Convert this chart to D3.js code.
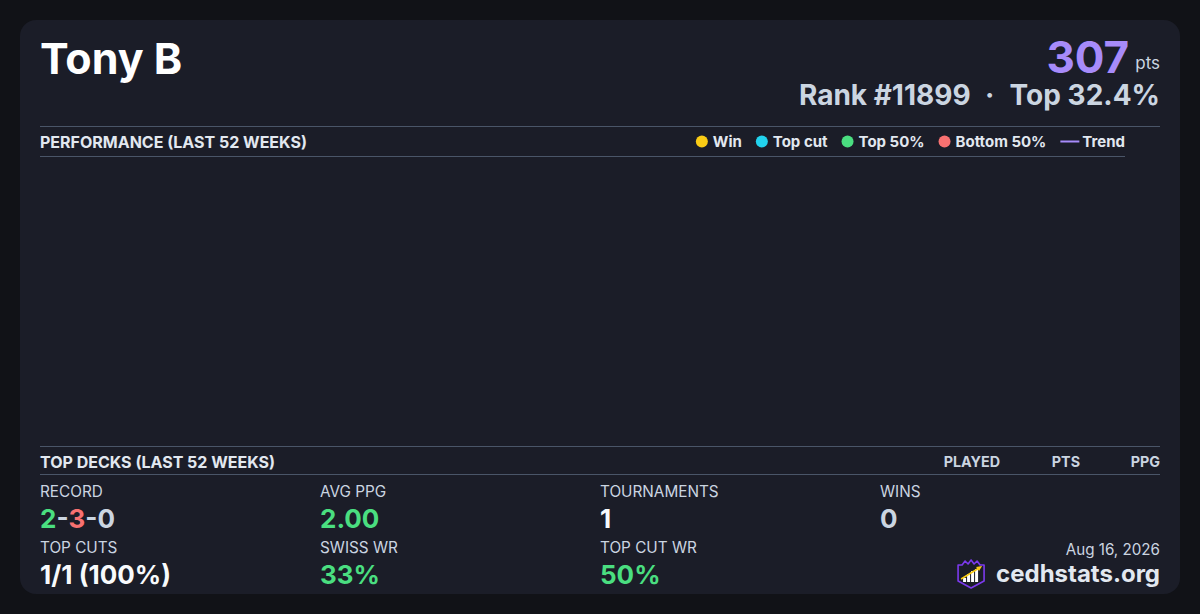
<!DOCTYPE html>
<html lang="en">
<head>
    <meta charset="UTF-8">
    <title>Tony B - cedhstats</title>
    <style>
        html, body { margin: 0; padding: 0; background: #111217; }
        svg text { font-family: Inter, "Noto Sans", sans-serif; }
    </style>
</head>
<body>

    <svg width="1200" height="614"></svg>

    <script src="https://d3js.org/d3.v7.min.js"></script>

    <script>

        // Player header
        const playerName = 'Tony B';
        const points = 307;
        const rank = 11899;
        const topPct = 32.4;
        const reportDate = 'Aug 16, 2026';

        // Legend of the performance chart
        const legendLabels = ['Win', 'Top cut', 'Top 50%', 'Bottom 50%', 'Trend'];
        const legendColors = ['#facc15', '#22d3ee', '#4ade80', '#f87171', '#a78bfa'];

        // Weekly results (last 52 weeks) - nothing in the window
        const perfWeeks = [];
        const perfPoints = [];

        // Top decks table
        const deckColumns = ['PLAYED', 'PTS', 'PPG'];
        const deckRows = [];

        // Stat blocks
        const statLabels = ['RECORD', 'AVG PPG', 'TOURNAMENTS', 'WINS', 'TOP CUTS', 'SWISS WR', 'TOP CUT WR'];
        const statValues = ['2-3-0', '2.00', '1', '0', '1/1 (100%)', '33%', '50%'];
        const statColors = [null, '#4ade80', '#f8fafc', '#cbd5e1', '#f8fafc', '#4ade80', '#4ade80'];

        const svg = d3.select('svg');
        const width = +svg.attr('width');
        const height = +svg.attr('height');

        const left = 40, right = 1160;
        const lineColor = '#4a5568';

        // Card
        svg.append('rect')
            .attr('x', 20).attr('y', 20)
            .attr('width', width - 40).attr('height', height - 40)
            .attr('rx', 16)
            .attr('fill', '#1b1d28');

        // Header
        svg.append('text')
            .attr('x', left).attr('y', 74)
            .attr('fill', '#ffffff')
            .style('font-size', '43px').style('font-weight', 700)
            .text(playerName);

        const ptsLabel = svg.append('text')
            .attr('x', right).attr('y', 69)
            .attr('text-anchor', 'end')
            .attr('fill', '#cbd5e1')
            .style('font-size', '17px')
            .text('pts');
        const ptsW = ptsLabel.node().getComputedTextLength();

        svg.append('text')
            .attr('x', right - ptsW - 6).attr('y', 73)
            .attr('text-anchor', 'end')
            .attr('fill', '#a78bfa')
            .style('font-size', '44px').style('font-weight', 700)
            .text(points);

        // Rank line: "Rank #n  ·  Top p%"
        const topText = svg.append('text')
            .attr('x', right).attr('y', 105)
            .attr('text-anchor', 'end')
            .attr('fill', '#cbd5e1')
            .style('font-size', '28px').style('font-weight', 700)
            .text('Top ' + topPct + '%');
        const topW = topText.node().getComputedTextLength();

        const dotX = right - topW - 20;
        svg.append('text')
            .attr('x', dotX).attr('y', 105)
            .attr('text-anchor', 'middle')
            .attr('fill', '#cbd5e1')
            .style('font-size', '28px').style('font-weight', 700)
            .text('\u00b7');

        svg.append('text')
            .attr('x', dotX - 19).attr('y', 105)
            .attr('text-anchor', 'end')
            .attr('fill', '#cbd5e1')
            .style('font-size', '28px').style('font-weight', 700)
            .text('Rank #' + rank);

        // Performance section
        svg.append('line')
            .attr('x1', left).attr('x2', right)
            .attr('y1', 126.5).attr('y2', 126.5)
            .attr('stroke', lineColor);

        svg.append('text')
            .attr('x', left).attr('y', 148)
            .attr('fill', '#e2e8f0')
            .style('font-size', '16px').style('font-weight', 700)
            .text('PERFORMANCE (LAST 52 WEEKS)');

        const plot = { left: left, right: 1125, top: 156, bottom: 446 };

        svg.append('line')
            .attr('x1', plot.left).attr('x2', plot.right)
            .attr('y1', plot.top + 0.5).attr('y2', plot.top + 0.5)
            .attr('stroke', lineColor);

        // Legend, laid out right to left so it ends at the plot edge
        const legend = svg.append('g');
        const items = legend.selectAll('g')
            .data(legendLabels)
            .enter()
            .append('g');

        items.append('text')
            .attr('y', 147)
            .attr('fill', '#e2e8f0')
            .style('font-size', '15px').style('font-weight', 700)
            .text(function (d) { return d; });

        let cursor = plot.right;
        const nodes = items.nodes();
        for (let i = nodes.length - 1; i >= 0; i--) {
            const g = d3.select(nodes[i]);
            const tw = g.select('text').node().getComputedTextLength();
            const textX = cursor - tw;
            g.select('text').attr('x', textX);
            if (legendLabels[i] === 'Trend') {
                g.append('line')
                    .attr('x1', textX - 22).attr('x2', textX - 3)
                    .attr('y1', 141.5).attr('y2', 141.5)
                    .attr('stroke', legendColors[i])
                    .attr('stroke-width', 2);
                cursor = textX - 22 - 14;
            } else {
                g.append('circle')
                    .attr('cx', textX - 11).attr('cy', 141.5)
                    .attr('r', 6)
                    .attr('fill', legendColors[i]);
                cursor = textX - 17 - 14;
            }
        }

        // Scales for the weekly chart (empty window)
        const xScale = d3.scaleLinear()
            .domain([0, 51])
            .range([plot.left + 10, plot.right - 10]);
        const yScale = d3.scaleLinear()
            .domain([0, d3.max(perfPoints) || 1])
            .range([plot.bottom - 15, plot.top + 15]);

        svg.append('g')
            .selectAll('circle')
            .data(perfWeeks)
            .enter()
            .append('circle')
            .attr('cx', function (d) { return xScale(d); })
            .attr('cy', function (d, i) { return yScale(perfPoints[i]); })
            .attr('r', 5);

        // Top decks section
        svg.append('line')
            .attr('x1', left).attr('x2', right)
            .attr('y1', 446.5).attr('y2', 446.5)
            .attr('stroke', lineColor);

        svg.append('text')
            .attr('x', left).attr('y', 468)
            .attr('fill', '#e2e8f0')
            .style('font-size', '16px').style('font-weight', 700)
            .text('TOP DECKS (LAST 52 WEEKS)');

        const colX = d3.scalePoint()
            .domain(deckColumns)
            .range([1000, right]);

        svg.selectAll('.deck-col')
            .data(deckColumns)
            .enter()
            .append('text')
            .attr('class', 'deck-col')
            .attr('x', function (d) { return colX(d); })
            .attr('y', 467)
            .attr('text-anchor', 'end')
            .attr('fill', '#cbd5e1')
            .style('font-size', '14.3px').style('font-weight', 700)
            .text(function (d) { return d; });

        svg.append('line')
            .attr('x1', left).attr('x2', right)
            .attr('y1', 474.5).attr('y2', 474.5)
            .attr('stroke', lineColor);

        // Stats grid
        const statCol = [40, 320, 600, 880];
        const statRow = [497, 553];

        statLabels.forEach(function (label, i) {
            const x = statCol[i % 4];
            const y = statRow[Math.floor(i / 4)];
            svg.append('text')
                .attr('x', x).attr('y', y)
                .attr('fill', '#cbd5e1')
                .style('font-size', '15.3px')
                .text(label);

            const v = svg.append('text')
                .attr('x', x).attr('y', y + 31)
                .style('font-size', '26px').style('font-weight', 700);

            if (label === 'RECORD') {
                const parts = statValues[i].split('-');
                const partColors = ['#4ade80', '#f87171', '#cbd5e1'];
                parts.forEach(function (p, j) {
                    if (j > 0) v.append('tspan').attr('fill', '#cbd5e1').text('-');
                    v.append('tspan').attr('fill', partColors[j]).text(p);
                });
            } else {
                v.attr('fill', statColors[i]).text(statValues[i]);
            }
        });

        // Footer: date and brand
        svg.append('text')
            .attr('x', right).attr('y', 555)
            .attr('text-anchor', 'end')
            .attr('fill', '#cbd5e1')
            .style('font-size', '15.2px')
            .text(reportDate);

        const brand = svg.append('text')
            .attr('x', right).attr('y', 582)
            .attr('text-anchor', 'end')
            .attr('fill', '#e2e8f0')
            .style('font-size', '24px').style('font-weight', 700)
            .text('cedhstats.org');
        const brandW = brand.node().getComputedTextLength();

        // Logo: crowned shield with bars and rising arrow
        const logo = svg.append('g')
            .attr('transform', 'translate(' + (right - brandW - 39) + ' 559)');
        logo.append('path')
            .attr('d', 'M1,6 L5,6 L8,2 L11,5 L14,1 L17,5 L20,2 L23,6 L27,6 L27,22 L14,29 L1,22 Z')
            .attr('fill', '#1b1d28')
            .attr('stroke', '#7c3aed')
            .attr('stroke-width', 1.6)
            .attr('stroke-linejoin', 'round');
        const bars = [[6, 19, 3], [10, 15, 3], [14, 12, 3], [18, 10, 3]];
        logo.selectAll('rect')
            .data(bars)
            .enter()
            .append('rect')
            .attr('x', function (d) { return d[0]; })
            .attr('y', function (d) { return d[1]; })
            .attr('width', function (d) { return d[2]; })
            .attr('height', function (d) { return 23 - d[1]; })
            .attr('fill', '#ffffff');
        logo.append('line')
            .attr('x1', 4).attr('y1', 20)
            .attr('x2', 22).attr('y2', 9)
            .attr('stroke', '#facc15').attr('stroke-width', 1.6);
        logo.append('path')
            .attr('d', 'M25,7 L19,8 L22,12 Z')
            .attr('fill', '#facc15');

    </script>

</body>
</html>
